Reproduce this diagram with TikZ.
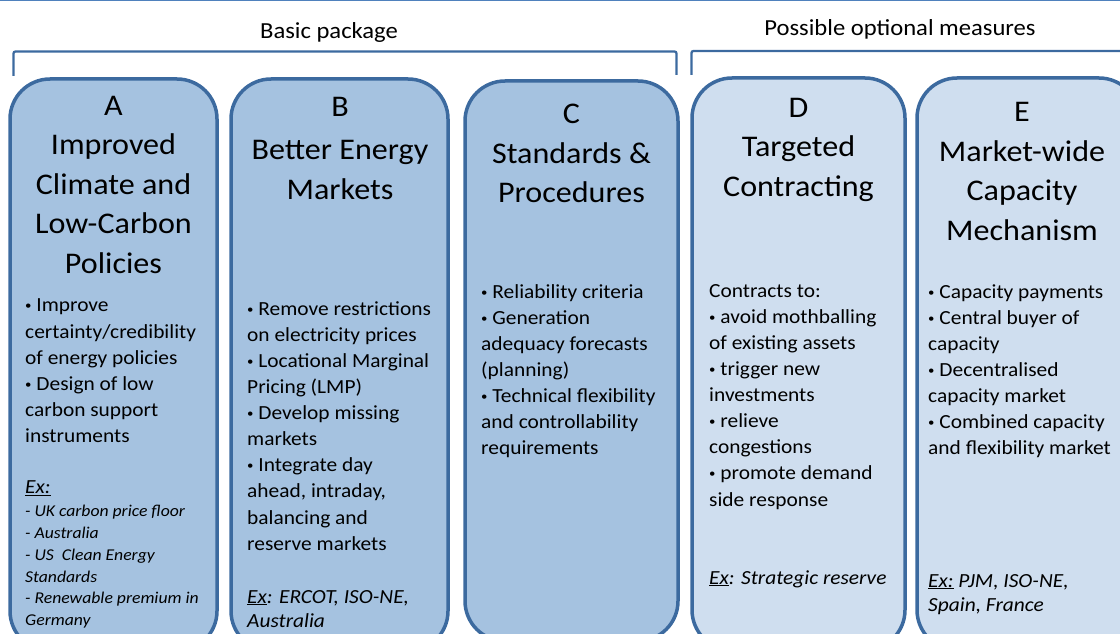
\documentclass[tikz,border=0pt]{standalone}
\usepackage{fontspec}
\setmainfont{Carlito}[FakeStretch=1.07]
\definecolor{basefill}{HTML}{A5C2E0}
\definecolor{optfill}{HTML}{CFDEEF}
\definecolor{edge}{HTML}{3C6A9F}
\definecolor{topline}{HTML}{4F81BD}
% zero-width strut fixing the height of a block's first line
\newcommand{\firstline}[1]{\rule{0pt}{#1}}
% small list bullet
\newcommand{\bul}{\raisebox{2pt}{\fontsize{12}{12}\selectfont •}}
\tikzset{
  panel/.style={draw=edge, line width=3.5pt, rounded corners=40pt,
    minimum height=572pt, anchor=north west, inner sep=0pt, outer sep=0pt},
  basepanel/.style={panel, fill=basefill},
  optpanel/.style={panel, fill=optfill},
  brace/.style={draw=edge, line width=2.3pt, rounded corners=2pt},
  title/.style={anchor=north, align=center, inner sep=0pt,
    font=\fontsize{30}{39.5}\selectfont},
  body/.style={anchor=north west, align=left, inner sep=0pt,
    font=\fontsize{20}{26.1}\selectfont},
  exlist/.style={anchor=north west, align=left, inner sep=0pt,
    font=\fontsize{16.5}{21.7}\selectfont\itshape},
  % base anchor of a multi-line node sits on its last line
  extext/.style={anchor=base west, align=left, inner sep=0pt,
    font=\fontsize{20}{24.5}\selectfont\itshape},
  header/.style={anchor=base, inner sep=0pt, font=\fontsize{23}{28}\selectfont}
}
\begin{document}
\begin{tikzpicture}[x=1pt, y=-1pt]
\useasboundingbox (0,0) rectangle (1120,634);

% thin rule along the top edge
\draw[topline, line width=1.5pt] (0,0.75) -- (1120,0.75);

% group headings and their brackets
\node[header] (basic) at (329,38.5) {Basic package};
\node[header] (optional) at (900,36) {Possible optional measures};
\draw[brace] (13.5,76) -- (13.5,51.5) -- (676.5,51.5) -- (676.5,75);
\draw[brace] (691.5,75) -- (691.5,51) -- (1125,51);

% the five measure panels
\node[basepanel, minimum width=207pt] (A) at (10,79) {};
\node[basepanel, minimum width=217pt] (B) at (231,79) {};
\node[basepanel, minimum width=213pt, minimum height=560pt] (C) at (465,81) {};
\node[optpanel, minimum width=213pt] (D) at (692,78) {};
\node[optpanel, minimum width=222pt] (E) at (917,78) {};

% panel A
\node[title] (Atitle) at (113.5,92) {\firstline{23pt}A\\Improved\\Climate and\\Low-Carbon\\Policies};
\node[body] (Abody) at (25,295.7) {\firstline{16pt}\bul{} Improve\\certainty/credibility\\of energy policies\\\bul{} Design of low\\carbon support\\instruments};
\node[extext] (Aex) at (25,493.3) {\underline{Ex:}};
\node[exlist] (Alist) at (25,503.7) {\firstline{13pt}- UK carbon price floor\\- Australia\\- US\ \ Clean Energy\\Standards\\- Renewable premium in\\Germany};

% panel B
\node[title] (Btitle) at (340,93) {\firstline{23pt}B\\[4pt]Better Energy\\Markets};
\node[body] (Bbody) at (247,299) {\firstline{16pt}\bul{} Remove restrictions\\on electricity prices\\\bul{} Locational Marginal\\Pricing (LMP)\\\bul{} Develop missing\\markets\\\bul{} Integrate day\\ahead, intraday,\\balancing and\\reserve markets};
\node[extext] (Bex) at (247,627.5) {\underline{Ex}: ERCOT, ISO-NE,\\Australia};

% panel C
\node[title] (Ctitle) at (571.5,100.3) {\firstline{23pt}C\\Standards \&\\Procedures};
\node[body] (Cbody) at (481,282) {\firstline{16pt}\bul{} Reliability criteria\\\bul{} Generation\\adequacy forecasts\\(planning)\\\bul{} Technical flexibility\\and controllability\\requirements};

% panel D
\node[title] (Dtitle) at (798.5,94) {\firstline{23pt}D\\Targeted\\Contracting};
\node[body] (Dbody) at (709,281) {\firstline{16pt}Contracts to:\\\bul{} avoid mothballing\\of existing assets\\\bul{} trigger new\\investments\\\bul{} relieve\\congestions\\\bul{} promote demand\\side response};
\node[extext] (Dex) at (709,584) {\underline{Ex}: Strategic reserve};

% panel E
\node[title] (Etitle) at (1022,98.7) {\firstline{23pt}E\\Market-wide\\Capacity\\Mechanism};
\node[body] (Ebody) at (928,282) {\firstline{16pt}\bul{} Capacity payments\\\bul{} Central buyer of\\capacity\\\bul{} Decentralised\\capacity market\\\bul{} Combined capacity\\and flexibility market};
\node[extext] (Eex) at (928,611.5) {\underline{Ex:} PJM, ISO-NE,\\Spain, France};
\end{tikzpicture}
\end{document}
